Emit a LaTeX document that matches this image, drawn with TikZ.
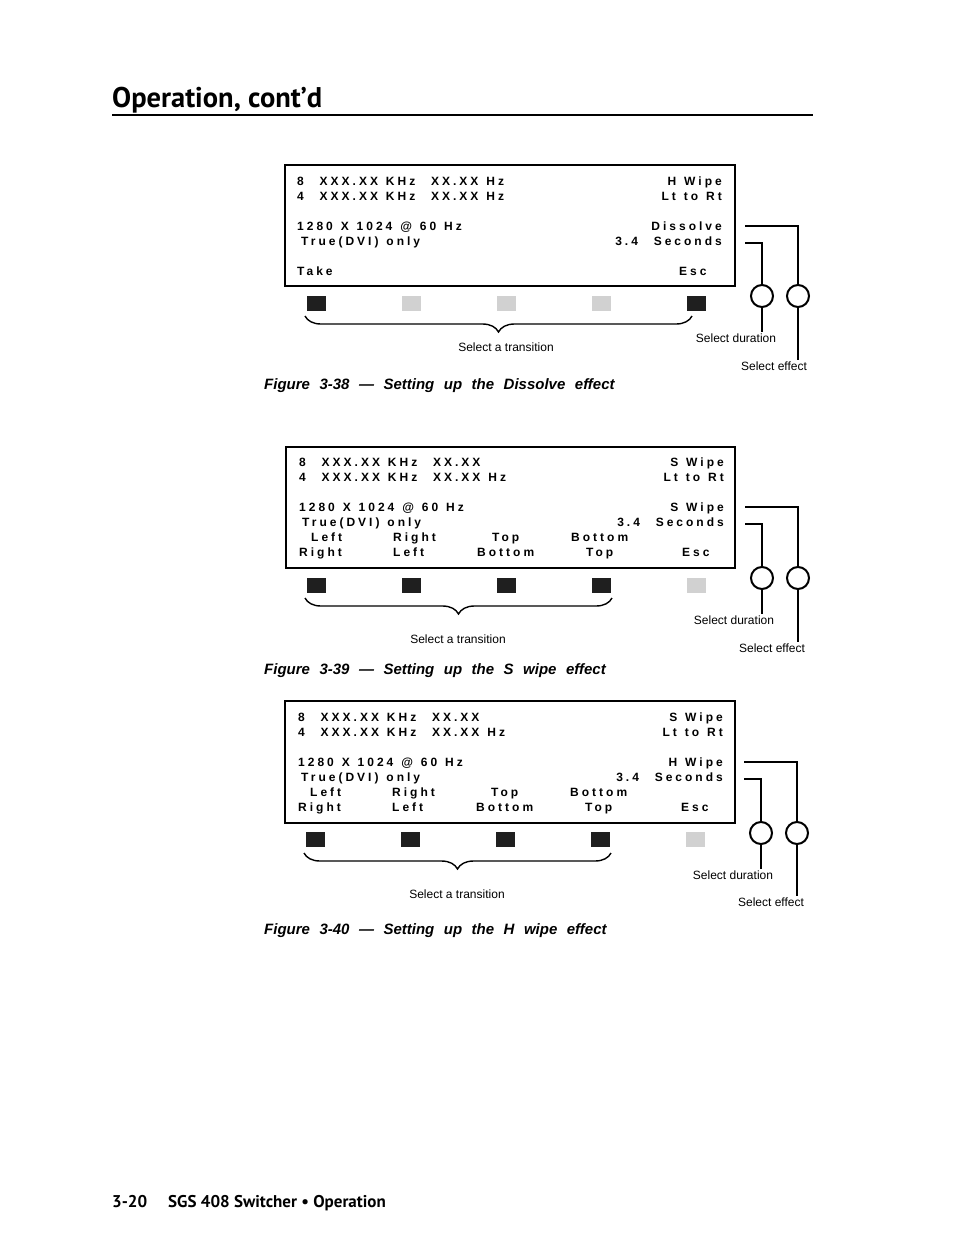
\documentclass[tikz,border=0pt]{standalone}
\usepackage{fontspec}
\setmainfont{Liberation Sans}
\newfontfamily\lcdfont[LetterSpace=25,WordSpace=1.25]{Liberation Sans}
\newfontfamily\ptfont{PT Sans}
\usepackage{tikz}
\usetikzlibrary{positioning,calc,decorations.pathreplacing}

\tikzset{
  lcd/.style={font={\lcdfont\bfseries\fontsize{12}{14}\selectfont}, inner sep=0pt},
  lcdframe/.style={line width=2.4pt},
  keyon/.style={fill=black!88, minimum width=19pt, minimum height=15pt, inner sep=0pt},
  keyoff/.style={fill=black!18, minimum width=19pt, minimum height=15pt, inner sep=0pt},
  knob/.style={circle, draw, line width=2pt, minimum size=22pt, inner sep=0pt},
  wire/.style={line width=1.6pt},
  bracket/.style={line width=1.4pt, decorate,
    decoration={brace, mirror, amplitude=16pt}},
  callout/.style={font=\fontsize{12}{14}\selectfont, inner sep=1pt},
  caption/.style={font={\bfseries\itshape\fontsize{15}{17}\selectfont\spaceskip=9.5pt\relax},
    inner sep=0pt, anchor=base west},
}

\begin{document}
\begin{tikzpicture}[x=1pt, y=-1pt]
  \useasboundingbox (0,0) rectangle (954,1235);
  % page heading
  \node[font=\ptfont\bfseries\fontsize{28.5}{32}\selectfont, anchor=base west, inner sep=0pt]
    (title) at (112,107) {Operation, cont’d};
  \coordinate (rl) at (112,115);
  \coordinate (rr) at (813,115);
  \draw[line width=2pt] (rl) -- (rr);

  % figure 3-38
  \begin{scope}[shift={(0,165)}]
    \draw[lcdframe] (285,0) rectangle (735,121);
    \node[lcd, anchor=base west] (a-r1) at (297,20) {8\ \ XXX.XX KHz\ \ XX.XX Hz};
    \node[lcd, anchor=base west] (a-r2) at (297,35) {4\ \ XXX.XX KHz\ \ XX.XX Hz};
    \node[lcd, anchor=base west] (a-r3) at (297,65) {1280 X 1024 @ 60 Hz};
    \node[lcd, anchor=base west] (a-r4) at (301,80) {True(DVI) only};
    \node[lcd, anchor=base west] (a-r6) at (297,110) {Take};
    \node[lcd, anchor=base east] (a-s1) at (722,20) {H Wipe};
    \node[lcd, anchor=base east] (a-s2) at (722,35) {Lt to Rt};
    \node[lcd, anchor=base east] (a-s3) at (722,65) {Dissolve};
    \node[lcd, anchor=base east] (a-s4) at (722,80) {3.4\ \ Seconds};
    \node[lcd, anchor=base west] (a-esc) at (679,110) {Esc};
    \foreach \x/\s [count=\i] in {316/keyon,411/keyoff,506/keyoff,601/keyoff,696/keyon}
      \node[\s] (a-k\i) at (\x,138) {};
    \node[knob] (a-dur) at (762,131) {};
    \node[knob] (a-eff) at (798,131) {};
    \coordinate (a-p1) at (745,61);
    \coordinate (a-p2) at (745,78);
    \draw[wire] (a-p1) -| (a-eff);
    \draw[wire] (a-p2) -| (a-dur);
    \node[callout] (a-durlab) at (736,173) {Select duration};
    \node[callout] (a-efflab) at (774,201) {Select effect};
    \draw[wire] (a-dur.south) -- (a-dur.south |- a-durlab.north);
    \draw[wire] (a-eff.south) -- (a-eff.south |- a-efflab.north);
    \coordinate (a-bl) at (305,151);
    \coordinate (a-br) at (692,151);
    \draw[bracket] (a-bl) -- (a-br);
    \node[callout] (a-tr) at (506,182) {Select a transition};
  \end{scope}
  \node[caption] (cap1) at (264,389) {Figure 3-38 — Setting up the Dissolve effect};

  % figure 3-39
  \begin{scope}[shift={(0,447)}]
    \draw[lcdframe] (286,0) rectangle (735,121);
    \node[lcd, anchor=base west] (b-r1) at (299,19) {8\ \ XXX.XX KHz\ \ XX.XX};
    \node[lcd, anchor=base west] (b-r2) at (299,34) {4\ \ XXX.XX KHz\ \ XX.XX Hz};
    \node[lcd, anchor=base west] (b-r3) at (299,64) {1280 X 1024 @ 60 Hz};
    \node[lcd, anchor=base west] (b-r4) at (302,79) {True(DVI) only};
    \node[lcd, anchor=base east] (b-s1) at (724,19) {S Wipe};
    \node[lcd, anchor=base east] (b-s2) at (724,34) {Lt to Rt};
    \node[lcd, anchor=base east] (b-s3) at (724,64) {S Wipe};
    \node[lcd, anchor=base east] (b-s4) at (724,79) {3.4\ \ Seconds};
    \foreach \x/\t [count=\i] in {311/Left,393/Right,492/Top,571/Bottom}
      \node[lcd, anchor=base west] (b-u\i) at (\x,94) {\t};
    \foreach \x/\t [count=\i] in {299/Right,393/Left,477/Bottom,586/Top,682/Esc}
      \node[lcd, anchor=base west] (b-l\i) at (\x,109) {\t};
    \foreach \x/\s [count=\i] in {316/keyon,411/keyon,506/keyon,601/keyon,696/keyoff}
      \node[\s] (b-k\i) at (\x,138) {};
    \node[knob] (b-dur) at (762,131) {};
    \node[knob] (b-eff) at (798,131) {};
    \coordinate (b-p1) at (745,60);
    \coordinate (b-p2) at (745,77);
    \draw[wire] (b-p1) -| (b-eff);
    \draw[wire] (b-p2) -| (b-dur);
    \node[callout] (b-durlab) at (734,173) {Select duration};
    \node[callout] (b-efflab) at (772,201) {Select effect};
    \draw[wire] (b-dur.south) -- (b-dur.south |- b-durlab.north);
    \draw[wire] (b-eff.south) -- (b-eff.south |- b-efflab.north);
    \coordinate (b-bl) at (305,151);
    \coordinate (b-br) at (612,151);
    \draw[bracket] (b-bl) -- (b-br);
    \node[callout] (b-tr) at (458,192) {Select a transition};
  \end{scope}
  \node[caption] (cap2) at (264,674) {Figure 3-39 — Setting up the S wipe effect};

  % figure 3-40
  \begin{scope}[shift={(0,701)}]
    \draw[lcdframe] (285,0) rectangle (735,122);
    \node[lcd, anchor=base west] (c-r1) at (298,20) {8\ \ XXX.XX KHz\ \ XX.XX};
    \node[lcd, anchor=base west] (c-r2) at (298,35) {4\ \ XXX.XX KHz\ \ XX.XX Hz};
    \node[lcd, anchor=base west] (c-r3) at (298,65) {1280 X 1024 @ 60 Hz};
    \node[lcd, anchor=base west] (c-r4) at (301,80) {True(DVI) only};
    \node[lcd, anchor=base east] (c-s1) at (723,20) {S Wipe};
    \node[lcd, anchor=base east] (c-s2) at (723,35) {Lt to Rt};
    \node[lcd, anchor=base east] (c-s3) at (723,65) {H Wipe};
    \node[lcd, anchor=base east] (c-s4) at (723,80) {3.4\ \ Seconds};
    \foreach \x/\t [count=\i] in {310/Left,392/Right,491/Top,570/Bottom}
      \node[lcd, anchor=base west] (c-u\i) at (\x,95) {\t};
    \foreach \x/\t [count=\i] in {298/Right,392/Left,476/Bottom,585/Top,681/Esc}
      \node[lcd, anchor=base west] (c-l\i) at (\x,110) {\t};
    \foreach \x/\s [count=\i] in {315/keyon,410/keyon,505/keyon,600/keyon,695/keyoff}
      \node[\s] (c-k\i) at (\x,138) {};
    \node[knob] (c-dur) at (761,132) {};
    \node[knob] (c-eff) at (797,132) {};
    \coordinate (c-p1) at (744,61);
    \coordinate (c-p2) at (744,78);
    \draw[wire] (c-p1) -| (c-eff);
    \draw[wire] (c-p2) -| (c-dur);
    \node[callout] (c-durlab) at (733,174) {Select duration};
    \node[callout] (c-efflab) at (771,201) {Select effect};
    \draw[wire] (c-dur.south) -- (c-dur.south |- c-durlab.north);
    \draw[wire] (c-eff.south) -- (c-eff.south |- c-efflab.north);
    \coordinate (c-bl) at (304,152);
    \coordinate (c-br) at (611,152);
    \draw[bracket] (c-bl) -- (c-br);
    \node[callout] (c-tr) at (457,193) {Select a transition};
  \end{scope}
  \node[caption] (cap3) at (264,934) {Figure 3-40 — Setting up the H wipe effect};

  % page footer
  \node[font=\ptfont\bfseries\fontsize{17}{20}\selectfont, anchor=base west, inner sep=0pt]
    (pgno) at (112,1207) {3-20};
  \node[font=\ptfont\bfseries\fontsize{17}{20}\selectfont, anchor=base west, inner sep=0pt]
    (foot) at (168,1207) {SGS 408 Switcher • Operation};
\end{tikzpicture}
\end{document}
